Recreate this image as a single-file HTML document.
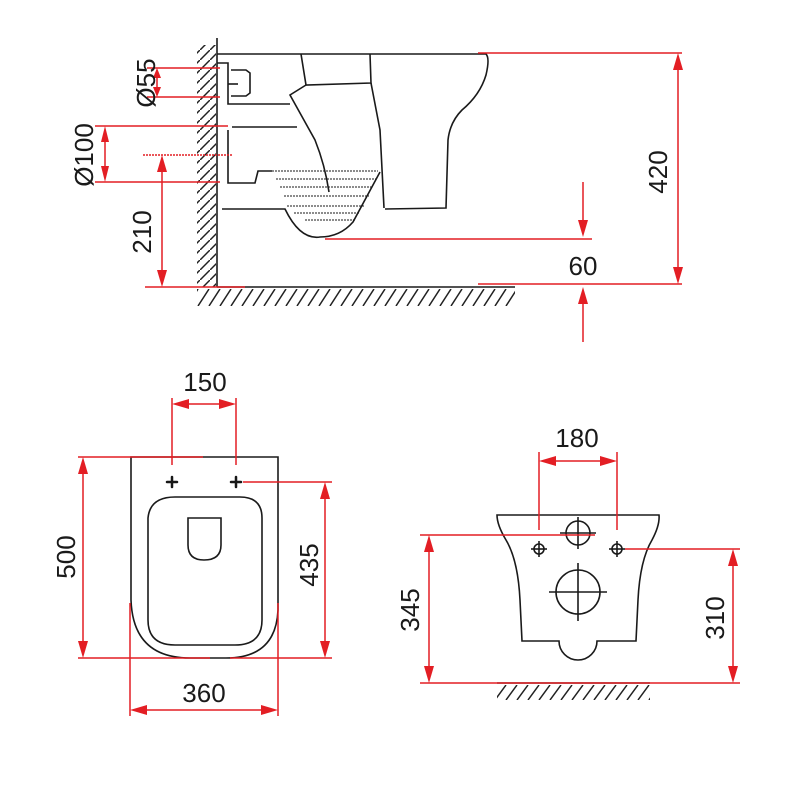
<!DOCTYPE html>
<html><head><meta charset="utf-8"><style>html,body{margin:0;padding:0;background:#fff}svg{display:block}text{font-family:"Liberation Sans",sans-serif;font-size:26px;fill:#1a1a1a}</style></head>
<body>
<svg width="800" height="800" viewBox="0 0 800 800" xmlns="http://www.w3.org/2000/svg">
<defs>
<pattern id="hw" width="10" height="10" patternUnits="userSpaceOnUse"><path d="M12,-2 L-2,12" stroke="#222" stroke-width="1.5"/></pattern>
<pattern id="hf" x="0" y="289" width="11" height="17" patternUnits="userSpaceOnUse"><path d="M11,0 L0,17 M22,0 L11,17 M0,0 L-11,17" stroke="#222" stroke-width="1.5"/></pattern>
<pattern id="hf2" x="0" y="685" width="11" height="15" patternUnits="userSpaceOnUse"><path d="M11,0 L0,15 M22,0 L11,15 M0,0 L-11,15" stroke="#222" stroke-width="1.5"/></pattern>
</defs>
<g fill="none" stroke="#1a1a1a" stroke-width="1.6">
<rect x="197" y="45" width="19" height="242" fill="url(#hw)" stroke="none"/>
<rect x="197" y="289" width="318" height="17" fill="url(#hf)" stroke="none"/>
<line x1="217" y1="38" x2="217" y2="287"/>
<line x1="217" y1="287" x2="515" y2="287"/>
<path d="M217,54 L486,54 Q490,58 486,75 Q480,95 462,110 Q450,122 448,140 L446,208 L385,209"/>
<path d="M301,54 L306,85 L371,83 L370,54"/>
<path d="M371,83 L380,130 L384,208"/>
<path d="M306,85 L290,95 L315,140 Q325,165 329,192"/>
<path d="M217,63 L228,63 L228,104 L290,104"/>
<path d="M231,70 L246,70 L250,73 L250,93 L246,96 L231,96"/>
<line x1="228" y1="84" x2="238" y2="84"/>
<line x1="232" y1="127" x2="297" y2="127"/>
<path d="M228,130 L228,183 L255,183 L258,171 L272,171"/>
<path d="M222,209 L285,209 Q300,240 320,237 Q340,237 353,222 L380,172"/>
<g stroke-width="1" stroke-dasharray="2,1"><line x1="272" y1="171" x2="378" y2="171"/><line x1="276" y1="179" x2="376" y2="179"/><line x1="280" y1="187" x2="373" y2="187"/><line x1="284" y1="196" x2="369" y2="196"/><line x1="287" y1="206" x2="364" y2="206"/><line x1="294" y1="213" x2="360" y2="213"/><line x1="305" y1="220" x2="355" y2="220"/></g>
<path d="M131,457 L278,457 L278,610 Q276,658 226,658 L190,658 Q133,658 131,600 Z"/>
<path d="M148,518 Q150,497 175,497 L240,497 Q262,497 262,518 L262,620 Q262,645 235,645 L175,645 Q148,645 148,620 Z"/>
<path d="M188,518 L221,518 L221,545 Q221,560 204,560 Q188,560 188,545 Z"/>
<path d="M497,515 L659,515 Q660,525 652,540 Q640,560 638,600 L636,641 L597,641 A19,19 0 0 1 559,641 L522,641 L520,600 Q518,560 506,540 Q497,525 497,515 Z"/>
<circle cx="578" cy="533" r="12"/><line x1="560" y1="533" x2="596" y2="533"/><line x1="578" y1="517" x2="578" y2="549"/>
<circle cx="578" cy="592" r="22"/><line x1="549" y1="592" x2="607" y2="592"/><line x1="578" y1="563" x2="578" y2="621"/>
<circle cx="539" cy="549" r="5"/><line x1="531" y1="549" x2="547" y2="549"/><line x1="539" y1="541" x2="539" y2="557"/>
<circle cx="617" cy="549" r="5"/><line x1="609" y1="549" x2="625" y2="549"/><line x1="617" y1="541" x2="617" y2="557"/>
<rect x="497" y="685" width="153" height="15" fill="url(#hf2)" stroke="none"/>
<line x1="497" y1="683" x2="650" y2="683"/>
</g>
<g stroke="#171717" stroke-width="2.5" stroke-linecap="round">
<line x1="167" y1="482" x2="177" y2="482"/><line x1="172" y1="477" x2="172" y2="487"/>
<line x1="231" y1="482" x2="241" y2="482"/><line x1="236" y1="477" x2="236" y2="487"/>
</g>
<g stroke="#e31e24" stroke-width="1.5" fill="none">
<line x1="147" y1="68" x2="220" y2="68"/><line x1="147" y1="97" x2="220" y2="97"/><line x1="157" y1="72" x2="157" y2="93"/>
<line x1="95" y1="126" x2="228" y2="126"/><line x1="95" y1="182" x2="220" y2="182"/><line x1="105" y1="140" x2="105" y2="168"/>
<line x1="143" y1="155" x2="233" y2="155" stroke-dasharray="2,1"/>
<line x1="162" y1="170" x2="162" y2="272"/>
<line x1="145" y1="287" x2="245" y2="287"/>
<line x1="478" y1="53" x2="682" y2="53"/><line x1="478" y1="284" x2="682" y2="284"/><line x1="678" y1="68" x2="678" y2="268"/>
<line x1="325" y1="239" x2="592" y2="239"/><line x1="583" y1="182" x2="583" y2="222"/><line x1="583" y1="304" x2="583" y2="342"/>
<line x1="172" y1="398" x2="172" y2="465"/><line x1="236" y1="398" x2="236" y2="465"/><line x1="186" y1="404" x2="222" y2="404"/>
<line x1="78" y1="457" x2="203" y2="457"/><line x1="78" y1="658" x2="210" y2="658"/><line x1="83" y1="473" x2="83" y2="642"/>
<line x1="243" y1="482" x2="332" y2="482"/><line x1="230" y1="658" x2="332" y2="658"/><line x1="325" y1="498" x2="325" y2="642"/>
<line x1="130" y1="603" x2="130" y2="716"/><line x1="278" y1="603" x2="278" y2="716"/><line x1="146" y1="710" x2="262" y2="710"/>
<line x1="539" y1="452" x2="539" y2="530"/><line x1="617" y1="452" x2="617" y2="530"/><line x1="553" y1="461" x2="603" y2="461"/>
<line x1="420" y1="535" x2="595" y2="535"/><line x1="420" y1="683" x2="740" y2="683"/><line x1="429" y1="551" x2="429" y2="667"/>
<line x1="625" y1="549" x2="740" y2="549"/><line x1="733" y1="565" x2="733" y2="667"/>
</g>
<g fill="#e31e24">
<polygon points="157,68 153,78 161,78"/><polygon points="157,97 153,87 161,87"/>
<polygon points="105,126 101,142 109,142"/><polygon points="105,182 101,166 109,166"/>
<polygon points="162,155 157,172 167,172"/><polygon points="162,287 157,270 167,270"/>
<polygon points="678,53 673,70 683,70"/><polygon points="678,284 673,267 683,267"/>
<polygon points="583,237 578,220 588,220"/><polygon points="583,287 578,304 588,304"/>
<polygon points="172,404 189,399 189,409"/><polygon points="236,404 219,399 219,409"/>
<polygon points="83,457 78,474 88,474"/><polygon points="83,658 78,641 88,641"/>
<polygon points="325,482 320,499 330,499"/><polygon points="325,658 320,641 330,641"/>
<polygon points="130,710 147,705 147,715"/><polygon points="278,710 261,705 261,715"/>
<polygon points="539,461 556,456 556,466"/><polygon points="617,461 600,456 600,466"/>
<polygon points="429,535 424,552 434,552"/><polygon points="429,683 424,666 434,666"/>
<polygon points="733,549 728,566 738,566"/><polygon points="733,683 728,666 738,666"/>
</g>
<g text-anchor="middle">
<text transform="translate(146,83) rotate(-90)" dy="9">Ø55</text>
<text transform="translate(84,155) rotate(-90)" dy="9">Ø100</text>
<text transform="translate(142,232) rotate(-90)" dy="9">210</text>
<text transform="translate(658,172) rotate(-90)" dy="9">420</text>
<text x="583" y="275">60</text>
<text x="205" y="391">150</text>
<text transform="translate(66,557) rotate(-90)" dy="9">500</text>
<text transform="translate(309,565) rotate(-90)" dy="9">435</text>
<text x="204" y="702">360</text>
<text x="577" y="447">180</text>
<text transform="translate(410,610) rotate(-90)" dy="9">345</text>
<text transform="translate(715,618) rotate(-90)" dy="9">310</text>
</g>
</svg>
</body></html>
